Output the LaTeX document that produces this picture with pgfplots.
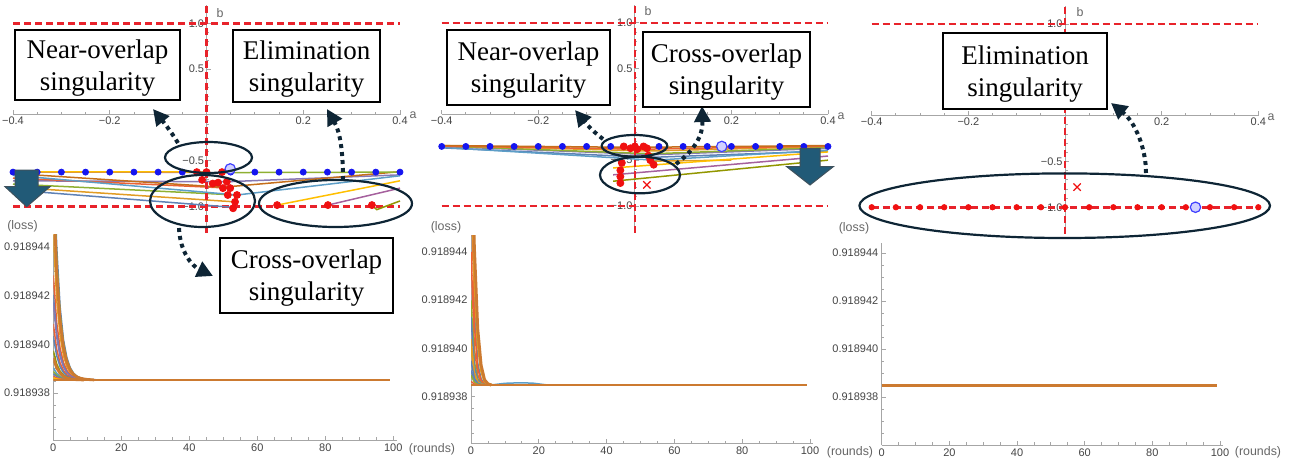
\documentclass[border=0pt]{standalone}
\usepackage{pgfplots}
\pgfplotsset{compat=1.18}
\usepackage{fontspec}
\setmainfont{Liberation Serif}
\setsansfont{Liberation Sans}
\usetikzlibrary{arrows.meta}
\definecolor{mc1}{HTML}{5E81B5}
\definecolor{mc2}{HTML}{E19C24}
\definecolor{mc3}{HTML}{8FB032}
\definecolor{mc4}{HTML}{EB6235}
\definecolor{mc5}{HTML}{8778B3}
\definecolor{mc6}{HTML}{C56E1A}
\definecolor{mc7}{HTML}{5D9EC7}
\definecolor{mc8}{HTML}{FFBF00}
\definecolor{mc9}{HTML}{A5609D}
\definecolor{mc10}{HTML}{929600}
\definecolor{lossorange}{RGB}{204,122,48}
\definecolor{navy}{HTML}{0E2535}
\definecolor{arrowfill}{HTML}{215A77}
\definecolor{dotred}{HTML}{F01010}
\definecolor{dotblue}{HTML}{1515F0}
\definecolor{dashred}{HTML}{E8232B}
\definecolor{axgray}{HTML}{A6A6A6}
\definecolor{labgray}{HTML}{444444}
\pgfplotsset{
 topax/.style={scale only axis, height=114pt, xmin=-0.4, xmax=0.4, ymin=-1.29, ymax=1.2,
  axis lines=middle, axis line style={axgray, line width=0.5pt, -},
  tick style={axgray, line width=0.4pt}, tick align=inside,
  major tick length=2.2pt, minor tick length=1.3pt,
  xtick={-0.4,-0.2,0.2,0.4}, xticklabels={−0.4,−0.2,0.2,0.4},
  minor xtick={-0.35,-0.3,-0.25,-0.15,-0.1,-0.05,0.05,0.1,0.15,0.25,0.3,0.35},
  ytick={-1,-0.5,0.5,1}, yticklabels={−1.0,−0.5,0.5,1.0},
  minor ytick={-0.9,-0.8,-0.7,-0.6,-0.4,-0.3,-0.2,-0.1,0.1,0.2,0.3,0.4,0.6,0.7,0.8,0.9},
  ticklabel style={font=\sffamily\fontsize{5.5}{6}\selectfont, text=labgray, inner sep=1pt},
  /pgf/number format/assume math mode=true,
  clip=false},
 botax/.style={scale only axis, xmin=0, xmax=101,
  axis lines=left, axis line style={axgray, line width=0.5pt, -},
  tick style={axgray, line width=0.4pt}, tick align=inside,
  major tick length=2.2pt, minor tick length=1.3pt,
  xtick={0,20,40,60,80,100}, xticklabels={0,20,40,60,80,100},
  minor xtick={5,10,15,25,30,35,45,50,55,65,70,75,85,90,95},
  ytick={938,940,942,944}, yticklabels={0.918938,0.918940,0.918942,0.918944},
  minor ytick={936.5,937,937.5,938.5,939,939.5,940.5,941,941.5,942.5,943,943.5,944.5},
  /pgf/number format/assume math mode=true,
  ticklabel style={font=\sffamily\fontsize{5.5}{6}\selectfont, text=labgray, inner sep=1.5pt}},
 rdash/.style={dashred, line width=1.3pt, dash pattern=on 3.5pt off 2pt},
 tl/.style={line width=0.75pt},
 bdots/.style={only marks, mark=*, mark size=1.5pt, color=dotblue, mark options={draw=dotblue, fill=dotblue}},
 rdots/.style={only marks, mark=*, mark size=1.75pt, color=dotred, mark options={draw=dotred, fill=dotred}},
 bcirc/.style={only marks, mark=*, mark size=2.6pt, color=blue!75, mark options={draw=blue!75, fill=blue!18, line width=0.6pt}},
 bl/.style={line width=0.75pt},
 bth/.style={line width=1.4pt, lossorange},
}
\begin{document}
\begin{tikzpicture}
\path[use as bounding box] (0,0) rectangle (648pt,231.5pt);
% ---------------- top left ----------------
\begin{axis}[topax, width=193.5pt, at={(6.5pt,115pt)}, anchor=south west]
\addplot[rdash] coordinates {(-0.4,1)(0.4,1)};
\addplot[rdash] coordinates {(-0.4,-1)(0.4,-1)};
\addplot[tl,mc1] coordinates {(-0.4,-0.82)(0.055,-1.01)};
\addplot[tl,mc2] coordinates {(-0.4,-0.79)(0.059,-0.95)};
\addplot[tl,mc3] coordinates {(-0.4,-0.755)(0.063,-0.875)};
\addplot[tl,mc5] coordinates {(-0.4,-0.72)(0.042,-0.73)(0.4,-0.655)};
\addplot[tl,mc4] coordinates {(-0.4,-0.69)(0.049,-0.80)};
\addplot[tl,mc7] coordinates {(-0.4,-0.66)(0.063,-0.875)(0.4,-0.665)};
\addplot[tl,mc6] coordinates {(-0.4,-0.64)(0.034,-0.79)(0.4,-0.62)};
\addplot[tl,mc3] coordinates {(0.03,-0.63)(0.4,-0.625)};
\addplot[tl,mc9] coordinates {(-0.4,-0.625)(0.0,-0.627)};
\addplot[tl,mc8] coordinates {(-0.4,-0.622)(0.0,-0.624)};
\addplot[tl,mc8] coordinates {(0.146,-0.985)(0.4,-0.72)};
\addplot[tl,mc9] coordinates {(0.251,-0.985)(0.4,-0.80)};
\addplot[tl,mc10] coordinates {(0.342,-0.985)(0.352,-1.035)(0.4,-0.94)};
\addplot[rdash] coordinates {(0,-1.29)(0,1.2)};
\addplot[bdots] coordinates {(-0.4,-0.625)(-0.35,-0.625)(-0.3,-0.625)(-0.25,-0.625)(-0.2,-0.625)(-0.15,-0.625)(-0.1,-0.625)(-0.05,-0.625)(0,-0.625)(0.05,-0.625)(0.1,-0.625)(0.15,-0.625)(0.2,-0.625)(0.25,-0.625)(0.3,-0.625)(0.35,-0.625)(0.4,-0.625)};
\addplot[rdots] coordinates {(-0.02,-0.625)(0.0,-0.625)(0.032,-0.625)(-0.009,-0.71)(0.013,-0.75)(0.024,-0.74)(0.042,-0.73)(0.034,-0.80)(0.049,-0.80)(0.044,-0.875)(0.063,-0.875)(0.059,-0.95)(0.055,-1.02)(0.146,-0.985)(0.251,-0.985)(0.342,-0.985)};
\addplot[bcirc] coordinates {(0.049,-0.59)};
\end{axis}
% ---------------- top middle ----------------
\begin{axis}[topax, width=193.15pt, at={(220.85pt,115.25pt)}, anchor=south west]
\addplot[rdash] coordinates {(-0.4,1)(0.4,1)};
\addplot[rdash] coordinates {(-0.4,-1)(0.4,-1)};
\addplot[tl,mc1] coordinates {(-0.4,-0.365)(0.03,-0.47)(0.4,-0.40)};
\addplot[tl,mc7] coordinates {(-0.4,-0.36)(0.04,-0.50)(0.4,-0.39)};
\addplot[tl,mc5] coordinates {(-0.4,-0.35)(0.04,-0.44)(0.4,-0.37)};
\addplot[tl,mc3] coordinates {(-0.4,-0.345)(0.035,-0.43)(0.4,-0.36)};
\addplot[tl,mc2] coordinates {(-0.4,-0.34)(0.03,-0.40)(0.4,-0.35)};
\addplot[tl,mc4] coordinates {(-0.4,-0.345)(0.02,-0.38)(0.4,-0.345)};
\addplot[tl,mc6] coordinates {(-0.4,-0.34)(0.0,-0.36)(0.4,-0.34)};
\addplot[tl,mc2] coordinates {(0.04,-0.51)(0.2,-0.50)};
\addplot[tl,mc8] coordinates {(-0.045,-0.585)(0.4,-0.41)};
\addplot[tl,mc9] coordinates {(-0.045,-0.66)(0.4,-0.455)};
\addplot[tl,mc10] coordinates {(-0.045,-0.73)(0.4,-0.50)};
\addplot[rdash] coordinates {(0,-1.29)(0,1.2)};
\addplot[bdots] coordinates {(-0.4,-0.35)(-0.35,-0.35)(-0.3,-0.35)(-0.25,-0.35)(-0.2,-0.35)(-0.15,-0.35)(-0.1,-0.35)(-0.05,-0.35)(0,-0.35)(0.05,-0.35)(0.1,-0.35)(0.15,-0.35)(0.2,-0.35)(0.25,-0.35)(0.3,-0.35)(0.35,-0.35)(0.4,-0.35)};
\addplot[rdots] coordinates {(-0.023,-0.35)(-0.009,-0.37)(0.0,-0.35)(0.018,-0.35)(0.025,-0.37)(0.005,-0.38)(0.028,-0.45)(0.032,-0.50)(0.039,-0.55)(-0.027,-0.53)(-0.030,-0.61)(-0.030,-0.68)(-0.030,-0.75)};
\addplot[bcirc] coordinates {(0.18,-0.35)};
\addplot[only marks, mark=x, mark size=2.6pt, dotred, line width=0.6pt] coordinates {(0.025,-0.77)};
\end{axis}
% ---------------- top right ----------------
\begin{axis}[topax, width=193.3pt, at={(435.85pt,114.6pt)}, anchor=south west, yticklabels={−1.0,−0.5,,1.0}]
\addplot[rdash] coordinates {(-0.4,1)(0.4,1)};
\addplot[rdash] coordinates {(-0.4,-1)(0.4,-1)};
\addplot[rdash] coordinates {(0,-1.29)(0,1.2)};
\addplot[only marks, mark=*, mark size=1.35pt, color=dotred, mark options={draw=dotred, fill=dotred}] coordinates {(-0.4,-1)(-0.35,-1)(-0.3,-1)(-0.25,-1)(-0.2,-1)(-0.15,-1)(-0.1,-1)(-0.05,-1)(0,-1)(0.05,-1)(0.1,-1)(0.15,-1)(0.2,-1)(0.25,-1)(0.3,-1)(0.35,-1)(0.4,-1)};
\addplot[bcirc] coordinates {(0.27,-1)};
\addplot[only marks, mark=x, mark size=2.6pt, dotred, line width=0.6pt] coordinates {(0.025,-0.78)};
\end{axis}
% ---------------- bottom left ----------------
\begin{axis}[botax, width=171.7pt, height=102.5pt, ymin=936.07, ymax=944.5, at={(26.65pt,11.5pt)}, anchor=south west]
\addplot[bl,mc1] coordinates {(0,948.54)(1,944.03)(2,941.55)(3,940.19)(4,939.45)(5,939.04)(6,938.81)(7,938.69)(8,938.62)(9,938.59)(10,938.57)(12,938.55)(14,938.54)};
\addplot[bl,mc3] coordinates {(0,947.54)(1,943.48)(2,941.25)(3,940.03)(4,939.36)(5,938.99)(6,938.79)(7,938.68)(8,938.61)(9,938.58)(10,938.56)(12,938.54)};
\addplot[bl,mc2] coordinates {(0,944.54)(1,941.83)(2,940.35)(3,939.53)(4,939.08)(5,938.84)(6,938.70)(7,938.63)(8,938.59)(10,938.56)(12,938.54)};
\addplot[bl,mc4] coordinates {(0,942.84)(1,940.90)(2,939.84)(3,939.25)(4,938.93)(5,938.75)(6,938.66)(7,938.60)(8,938.58)(9,938.56)(10,938.55)(12,938.54)};
\addplot[bl,mc1] coordinates {(0,942.04)(1,940.46)(2,939.59)(3,939.12)(4,938.86)(5,938.71)(6,938.64)(7,938.59)(8,938.57)(10,938.55)(12,938.54)};
\addplot[bl,mc5] coordinates {(0,941.74)(1,940.30)(2,939.50)(3,939.07)(4,938.83)(5,938.70)(6,938.63)(7,938.59)(8,938.57)(10,938.55)(12,938.54)};
\addplot[bl,mc4] coordinates {(0,940.84)(1,939.80)(2,939.23)(3,938.92)(4,938.75)(5,938.65)(6,938.60)(7,938.57)(8,938.56)(10,938.54)};
\addplot[bl,mc1] coordinates {(0,940.34)(1,939.53)(2,939.08)(3,938.84)(4,938.70)(5,938.63)(6,938.59)(7,938.57)(8,938.55)(10,938.54)};
\addplot[bl,mc10] coordinates {(0,939.74)(1,939.20)(2,938.90)(3,938.74)(4,938.65)(5,938.60)(6,938.57)(7,938.56)(9,938.54)};
\addplot[bl,mc7] coordinates {(0,939.04)(1,938.81)(2,938.69)(3,938.62)(4,938.59)(5,938.56)(6,938.55)(8,938.54)};
\addplot[bl,mc3] coordinates {(0,938.89)(1,938.73)(2,938.65)(3,938.60)(4,938.57)(5,938.56)(6,938.55)(8,938.54)};
\addplot[bl,mc1] coordinates {(0,938.79)(1,938.68)(2,938.62)(3,938.58)(4,938.56)(5,938.55)(7,938.54)};
\addplot[bl,mc4] coordinates {(0,938.69)(1,938.62)(2,938.59)(3,938.56)(4,938.55)(6,938.54)};
\addplot[bl,mc8] coordinates {(0,938.62)(1,938.58)(2,938.56)(3,938.55)(5,938.54)};
\addplot[bth] coordinates {(0,946.54)(1,942.93)(2,940.95)(3,939.86)(4,939.27)(5,938.94)(6,938.76)(7,938.66)(8,938.61)(9,938.58)(10,938.56)(12,938.54)};
\addplot[bth] coordinates {(0,939.44)(1,939.03)(2,938.81)(3,938.69)(4,938.62)(5,938.58)(6,938.56)(7,938.55)(9,938.54)};
\addplot[bth] coordinates {(0,938.54)(99,938.54)};
\end{axis}
% ---------------- bottom middle ----------------
\begin{axis}[botax, width=171.2pt, height=104.15pt, ymin=936.07, ymax=944.68, at={(235.5pt,9.85pt)}, anchor=south west]
\addplot[bl,mc1] coordinates {(0,950.48)(1,941.75)(2,939.37)(3,938.72)(4,938.55)(5,938.50)(6,938.48)};
\addplot[bl,mc4] coordinates {(0,947.48)(1,940.93)(2,939.15)(3,938.66)(4,938.53)(5,938.49)(6,938.48)};
\addplot[bl,mc4] coordinates {(0,943.98)(1,939.98)(2,938.89)(3,938.59)(4,938.51)(5,938.49)};
\addplot[bl,mc3] coordinates {(0,941.98)(1,939.43)(2,938.74)(3,938.55)(4,938.50)(5,938.48)};
\addplot[bl,mc1] coordinates {(0,941.28)(1,939.24)(2,938.69)(3,938.54)(4,938.50)(5,938.48)};
\addplot[bl,mc2] coordinates {(0,940.38)(1,939.00)(2,938.62)(3,938.52)(4,938.49)};
\addplot[bl,mc2] coordinates {(0,939.98)(1,938.89)(2,938.59)(3,938.51)(4,938.49)};
\addplot[bl,mc1] coordinates {(0,939.48)(1,938.75)(2,938.55)(3,938.50)(4,938.48)};
\addplot[bl,mc1] coordinates {(0,939.08)(1,938.64)(2,938.52)(3,938.49)};
\addplot[bl,mc3] coordinates {(0,938.88)(1,938.59)(2,938.51)(3,938.49)};
\addplot[bl,mc4] coordinates {(0,938.63)(1,938.52)(2,938.49)};
\addplot[bl,mc7] coordinates {(4,938.49)(7,938.50)(10,938.55)(14,938.57)(18,938.56)(22,938.49)};
\addplot[bth,mc2] coordinates {(0,949)(1,943.2)(2,940.3)(3,939.1)(4,938.65)(5,938.52)(6,938.48)};
\addplot[bth] coordinates {(0,950)(1,944.2)(2,940.8)(3,939.3)(4,938.7)(5,938.53)(6,938.48)};
\addplot[bth] coordinates {(0,938.48)(99,938.48)};
\end{axis}
% ---------------- bottom right ----------------
\begin{axis}[botax, width=170.85pt, height=100.85pt, ymin=936.0, ymax=944.4, at={(440.85pt,9pt)}, anchor=south west]
\addplot[bth] coordinates {(0,938.49)(99,938.49)};
\end{axis}
% ---------------- annotations (pixel coordinates, y down) ----------------
\begin{scope}[shift={(0,231.5pt)}, x=0.5pt, y=-0.5pt]
\tikzset{lab/.style={font=\sffamily\fontsize{6.2}{7}\selectfont, text=black!60, inner sep=0pt},
 box/.style={draw=black, line width=0.8pt, fill=white},
 btxt/.style={align=center, font=\fontsize{13.5}{16}\selectfont, inner sep=0pt},
 ell/.style={navy, line width=1.1pt},
 darr/.style={navy, line width=2pt, dash pattern=on 2pt off 2pt, -{Triangle[length=8pt,width=8pt]}},
 barr/.style={fill=arrowfill, draw=navy!80, line width=0.5pt}}
% axis letters
\node[lab] at (413,115) {a};
\node[lab] at (841,116) {a};
\node[lab] at (1271,117) {a};
\node[lab] at (220,13) {b};
\node[lab] at (648,11) {b};
\node[lab] at (1080,12) {b};
\node[lab] at (22.5,226) {(loss)};
\node[lab] at (446,227) {(loss)};
\node[lab] at (854,228) {(loss)};
\node[lab] at (432,449) {(rounds)};
\node[lab] at (850,452) {(rounds)};
\node[lab] at (1258,452) {(rounds)};
% ellipses
\draw[ell] (208.5,157.5) ellipse [x radius=43.5, y radius=15.5];
\draw[ell] (202.5,201) ellipse [x radius=52.5, y radius=26];
\draw[ell] (335.5,203.5) ellipse [x radius=76.5, y radius=23.5];
\draw[ell] (634.5,145.8) ellipse [x radius=32.8, y radius=10.8];
\draw[ell] (640,175) ellipse [x radius=40, y radius=18.3];
\draw[ell] (1064.7,205.7) ellipse [x radius=205.3, y radius=32.3];
% block arrows
\filldraw[barr] (15,170) -- (38,170) -- (38,186.7) -- (50,186.7) -- (26.7,206.7) -- (5,186.7) -- (15,186.7) -- cycle;
\filldraw[barr] (800,148.3) -- (820,148.3) -- (820,166.7) -- (833.3,166.7) -- (810,185) -- (786.7,166.7) -- (800,166.7) -- cycle;
% dotted arrows
\draw[darr] (178,143) .. controls (172,133) and (165,124) .. (153,109);
\draw[darr] (343,180) .. controls (343,150) and (340,132) .. (327,109);
\draw[darr] (179,228) .. controls (180,252) and (192,266) .. (213,276);
\draw[darr] (603,139) .. controls (595,133) and (588,126) .. (575,110);
\draw[darr] (676,164) .. controls (695,150) and (703,135) .. (702,106);
\draw[darr] (1146,173) .. controls (1146,148) and (1135,122) .. (1111,103);
% boxes
\draw[box] (15,30) rectangle (180,100);
\node[btxt] at (97.5,68) {Near-overlap\\singularity};
\draw[box] (233,30) rectangle (380,102);
\node[btxt] at (306.5,69) {Elimination\\singularity};
\draw[box] (220,238) rectangle (393,313);
\node[btxt] at (306.5,278) {Cross-overlap\\singularity};
\draw[box] (447,30) rectangle (610,105);
\node[btxt] at (528.5,70) {Near-overlap\\singularity};
\draw[box] (643,32) rectangle (810,107);
\node[btxt] at (726.5,72) {Cross-overlap\\singularity};
\draw[box] (943,33) rectangle (1107,109);
\node[btxt] at (1025,74) {Elimination\\singularity};
\end{scope}
\end{tikzpicture}
\end{document}
